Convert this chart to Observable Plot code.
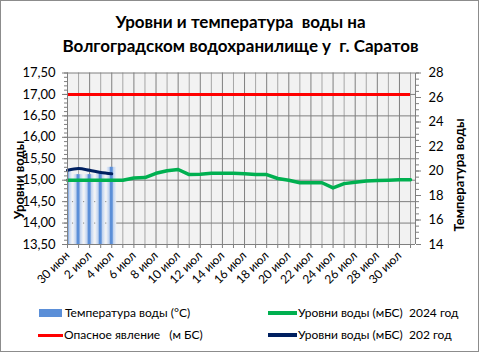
<!DOCTYPE html>
<html><head><meta charset="utf-8">
<script src="https://cdn.jsdelivr.net/npm/d3@7"></script>
<script src="https://cdn.jsdelivr.net/npm/@observablehq/plot@0.6"></script>
<style>
body{margin:0;background:#fff;font-family:Lato,"Open Sans",sans-serif;color:#000;}
#chart{position:relative;width:481px;height:354px;overflow:hidden;background:#fff;}
#chart svg{position:absolute;left:0;top:0;}
#border{position:absolute;left:0;top:0;width:477px;height:350px;border:1px solid #8c8c8c;z-index:5;pointer-events:none;}
#title{position:absolute;left:0;top:10px;width:481px;text-align:center;font-weight:bold;font-size:17px;line-height:24px;white-space:pre;}
.ytitle{position:absolute;font-weight:bold;font-size:13px;white-space:nowrap;transform:translate(-50%,-50%) rotate(-90deg);}
.leg{position:absolute;font-size:12px;white-space:pre;line-height:14px;}
.sw{position:absolute;}
</style></head>
<body>
<div id="chart">
  <div id="title">Уровни и температура  воды на
Волгоградском водохранилище у  г. Саратов</div>
  <div class="ytitle" style="left:19px;top:180px;">Уровни воды</div>
  <div class="ytitle" style="left:459px;top:175px;">Температура воды</div>
  <div class="sw" style="left:39px;top:309px;width:23px;height:8px;background:#5b8fd8;"></div>
  <div class="leg" style="left:65px;top:306px;">Температура воды (°C)</div>
  <div class="sw" style="left:38px;top:334px;width:25px;height:3px;background:#ff0000;"></div>
  <div class="leg" style="left:64px;top:328px;">Опасное явление   (м БС)</div>
  <div class="sw" style="left:268px;top:311px;width:29px;height:4px;background:#00b050;"></div>
  <div class="leg" style="left:298px;top:306px;">Уровни воды (мБС)  2024 год</div>
  <div class="sw" style="left:268px;top:333px;width:29px;height:4px;background:#002060;"></div>
  <div class="leg" style="left:298px;top:328px;">Уровни воды (мБС)  202 год</div>
  <div id="border"></div>
</div>
<script>
const days = ["30 июн","1 июл","2 июл","3 июл","4 июл","5 июл","6 июл","7 июл","8 июл","9 июл","10 июл","11 июл","12 июл","13 июл","14 июл","15 июл","16 июл","17 июл","18 июл","19 июл","20 июл","21 июл","22 июл","23 июл","24 июл","25 июл","26 июл","27 июл","28 июл","29 июл","30 июл","31 июл"];
const level2024 = [15.00,15.00,15.00,15.00,15.00,15.00,15.05,15.06,15.16,15.22,15.25,15.13,15.14,15.16,15.16,15.16,15.15,15.13,15.13,15.04,15.00,14.94,14.94,14.94,14.82,14.92,14.95,14.98,14.99,15.00,15.01,15.01];
const levelPrev = [15.23,15.27,15.23,15.18,15.15];
const temperature = [20.0,19.7,19.7,19.8,20.3];
const dangerLevel = 17.00;
const levelTicks = [13.5,14.0,14.5,15.0,15.5,16.0,16.5,17.0,17.5];
const tempTicks = [14,16,18,20,22,24,26,28];

const L0 = 13.5, L1 = 17.5, T0 = 14, T1 = 28;
const t2l = t => L0 + (t - T0) * (L1 - L0) / (T1 - T0);
const l2t = l => T0 + (l - L0) * (T1 - T0) / (L1 - L0);
const idx = days.map((d, i) => i);
const lastIdx = days.length - 1;
const xMax = lastIdx + 0.45;

const plot = Plot.plot({
  width: 481, height: 354,
  marginLeft: 67, marginRight: 66, marginTop: 72.5, marginBottom: 110,
  x: {type: "linear", domain: [0, xMax]},
  y: {domain: [L0, L1]},
  style: {fontFamily: "Lato, 'Open Sans', sans-serif", fontSize: "13px", color: "#000", background: "transparent", overflow: "visible"},
  marks: [
    Plot.frame({fill: "#f2f2f2", stroke: null}),
    Plot.ruleX(idx.filter(i => i % 2 === 1), {stroke: "#a6a6a6", strokeWidth: 1}),
    Plot.ruleX(idx.filter(i => i % 2 === 0), {stroke: "#7f7f7f", strokeWidth: 1}),
    Plot.ruleY(levelTicks, {stroke: "#7f7f7f", strokeWidth: 1}),
    Plot.ruleX([xMax], {stroke: "#7f7f7f"}),
    Plot.rectY(temperature, {x1: (d, i) => i - 0.45, x2: (d, i) => i + 0.45, y1: L0, y2: d => t2l(d), fill: "url(#barGrad)", clip: true}),
    Plot.rectY(temperature, {x1: (d, i) => i - 0.13, x2: (d, i) => i + 0.13, y1: L0, y2: d => t2l(d), fill: "#5b8fd8", clip: true}),
    Plot.ruleY([dangerLevel], {x1: 0, x2: lastIdx, stroke: "#ff0000", strokeWidth: 3}),
    Plot.line(level2024, {x: (d, i) => i, y: d => d, stroke: "#00b050", strokeWidth: 3.5}),
    Plot.line(levelPrev, {x: (d, i) => i, y: d => d, stroke: "#002060", strokeWidth: 3, curve: "catmull-rom"}),
    Plot.axisY(levelTicks, {anchor: "left", tickSize: 5, tickPadding: 7, tickFormat: d => d.toFixed(2).replace(".", ","), stroke: "#7f7f7f", fill: "#000", fontSize: 13, label: null}),
    Plot.axisY(d3.range(135, 176).map(v => v / 10), {anchor: "left", tickSize: 3, tickFormat: () => "", stroke: "#7f7f7f", label: null}),
    Plot.axisY(tempTicks.map(t2l), {anchor: "right", tickSize: 5, tickPadding: 8, tickFormat: l => String(Math.round(l2t(l))), stroke: "#7f7f7f", fill: "#000", fontSize: 13, label: null}),
    Plot.axisY(d3.range(28, 57).map(v => t2l(v / 2)), {anchor: "right", tickSize: 3, tickFormat: () => "", stroke: "#7f7f7f", label: null}),
    Plot.axisX(idx, {tickSize: 4, tickFormat: () => "", stroke: "#7f7f7f", label: null}),
    Plot.axisX(idx.filter(i => i % 2 === 0), {tickSize: 0, tickPadding: 9, tickRotate: -45, tickFormat: i => days[i], fill: "#000", fontSize: 12, label: null}),
    Plot.ruleY([L0], {stroke: "#7f7f7f"}),
    Plot.ruleX([0], {stroke: "#7f7f7f"})
  ]
});
const ns = "http://www.w3.org/2000/svg";
const defs = document.createElementNS(ns, "defs");
defs.innerHTML = '<linearGradient id="barGrad" x1="0" x2="1" y1="0" y2="0"><stop offset="0" stop-color="#eef2f8"/><stop offset="0.5" stop-color="#9fbbe6"/><stop offset="1" stop-color="#eef2f8"/></linearGradient>';
plot.prepend(defs);
document.getElementById("chart").insertBefore(plot, document.getElementById("border"));
</script>
</body></html>
